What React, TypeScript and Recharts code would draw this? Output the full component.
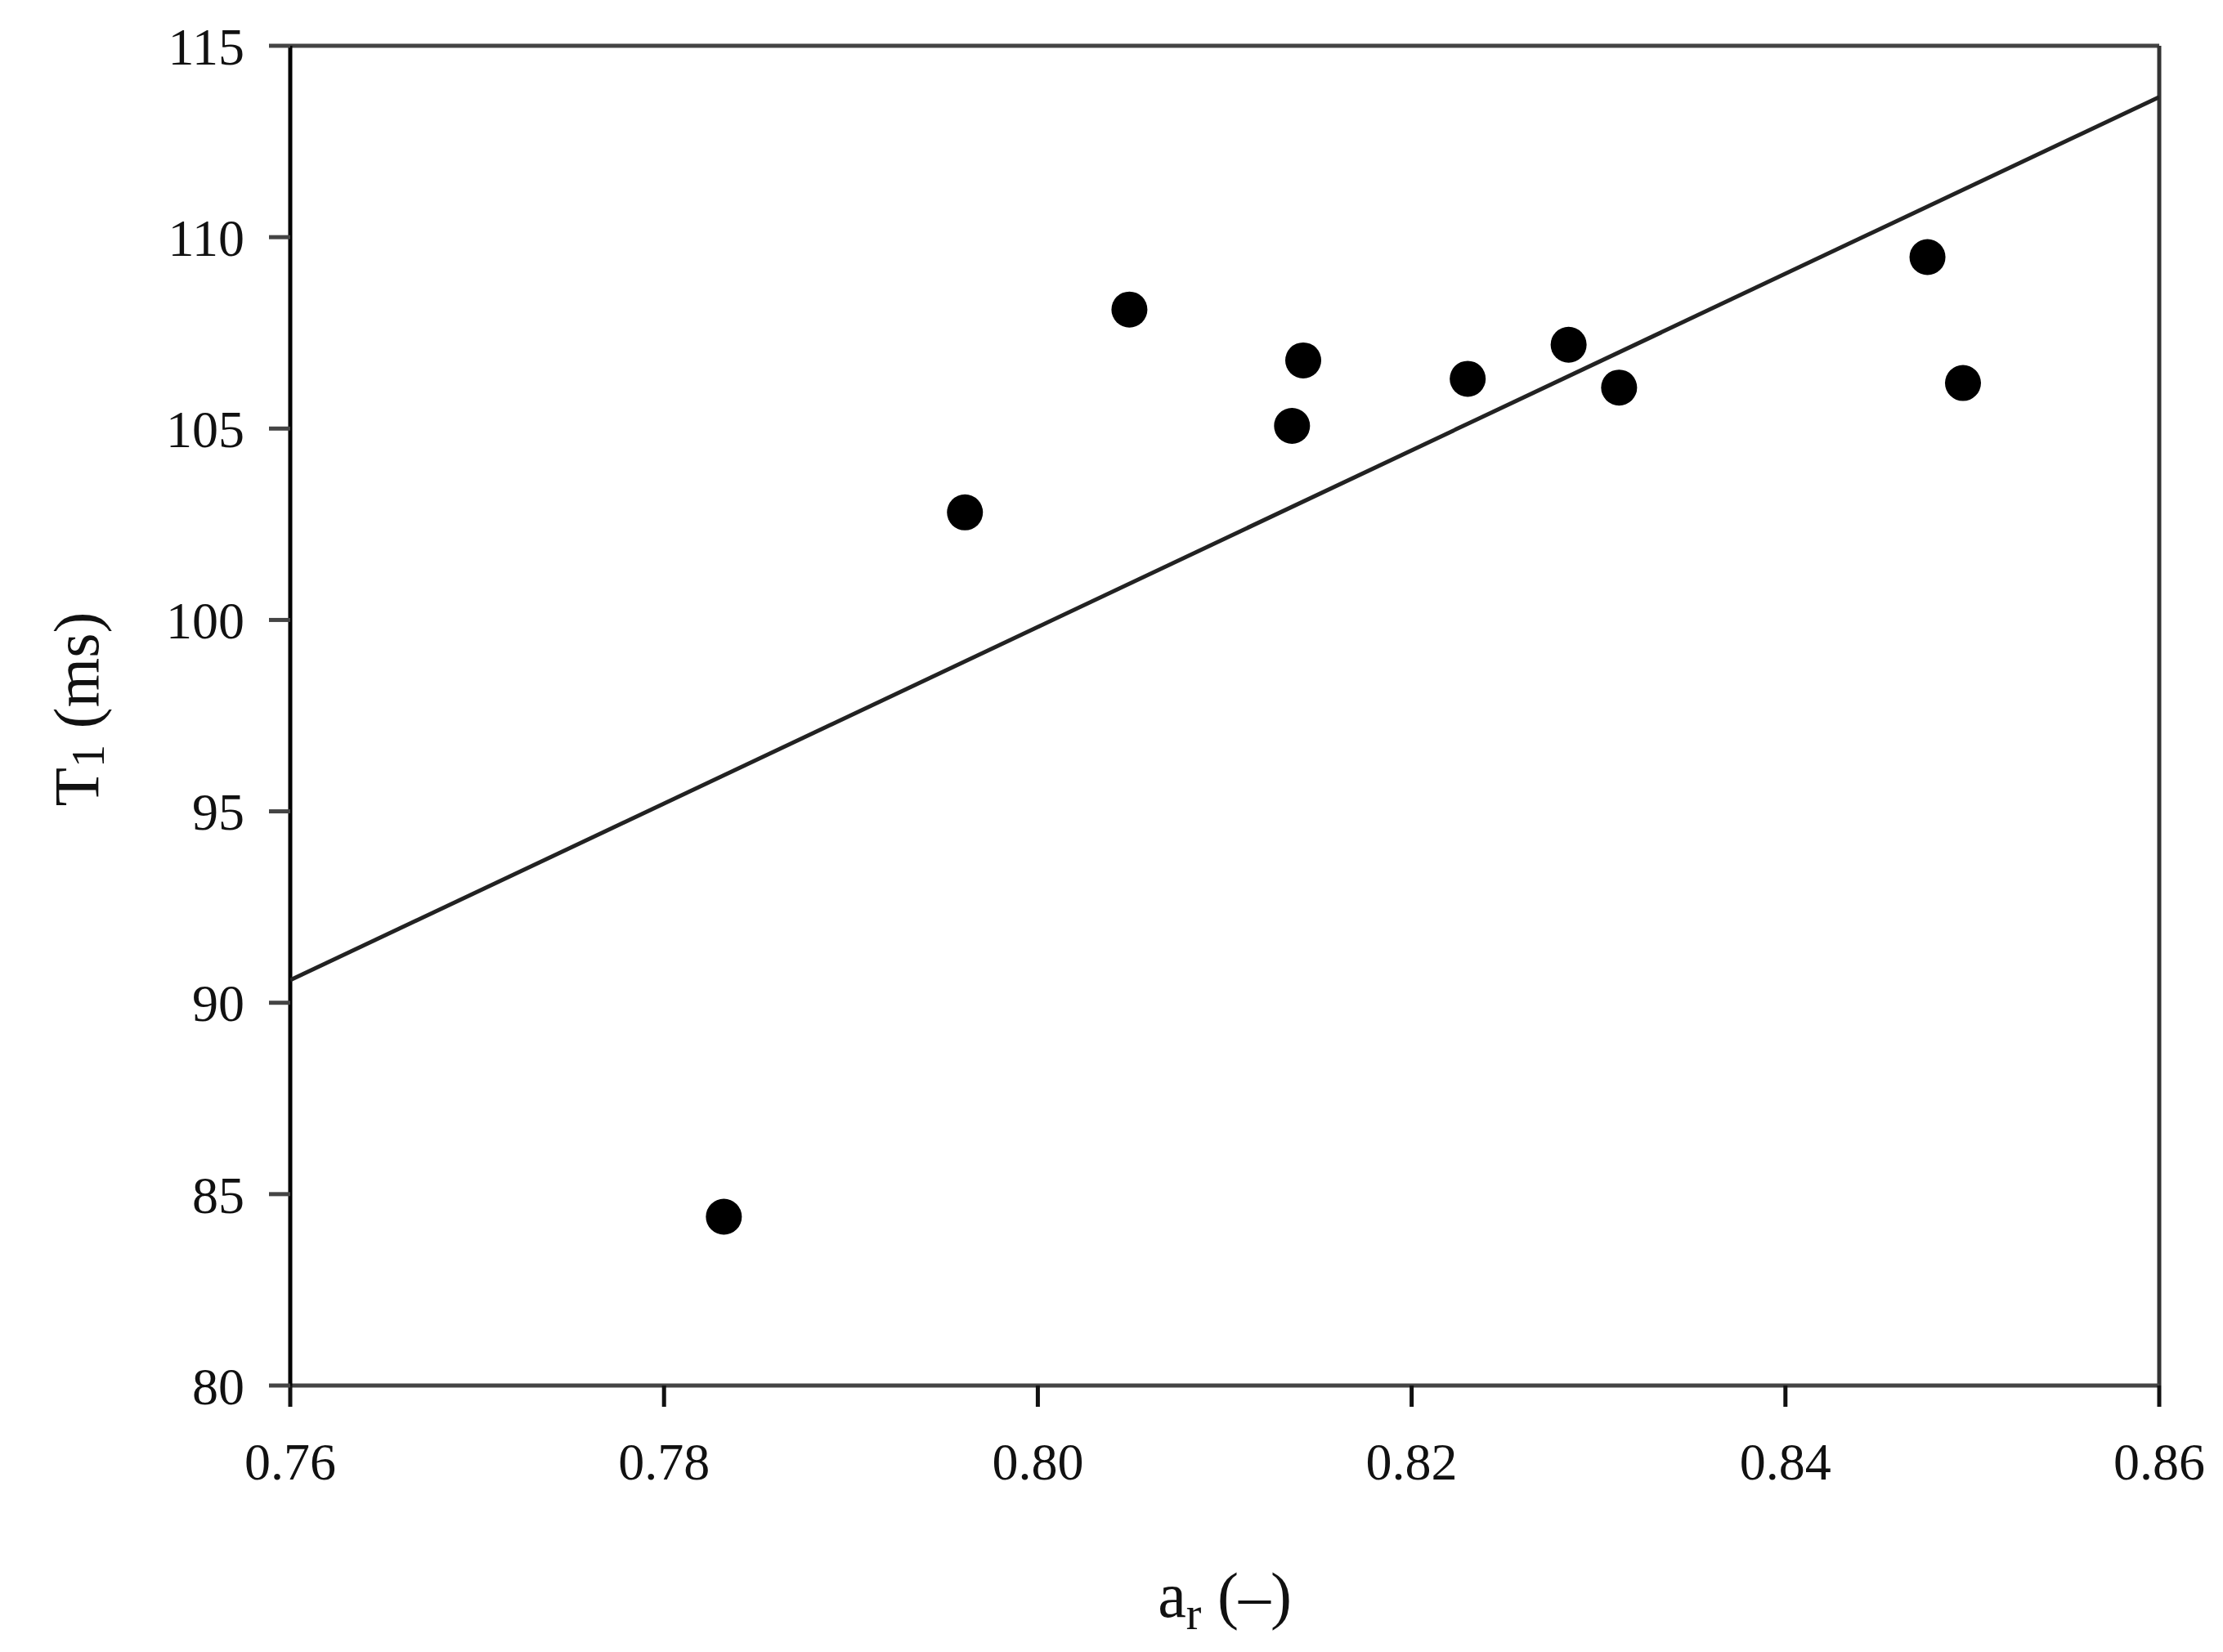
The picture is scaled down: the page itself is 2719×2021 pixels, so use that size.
import { ComposedChart, ReferenceLine, Scatter, XAxis, YAxis } from "recharts";

const arValues = [0.7832, 0.7961, 0.8049, 0.8136, 0.8142, 0.823, 0.8284, 0.8311, 0.8476, 0.8495];
const t1Values = [84.41, 102.81, 108.11, 105.07, 106.78, 106.3, 107.19, 106.07, 109.48, 106.19];
const fitX = [0.76, 0.86];
const fitY = [90.59, 113.66];
const xTicks = [0.76, 0.78, 0.8, 0.82, 0.84, 0.86];
const yTicks = [80, 85, 90, 95, 100, 105, 110, 115];

const points = arValues.map((x, i) => ({ x, y: t1Values[i] }));
const fitLine = fitX.map((x, i) => ({ x, y: fitY[i] }));

const FONT = "'Liberation Serif', 'DejaVu Serif', serif";
const W = 2719;
const H = 2021;

function Dot(props: any) {
  return <circle cx={props.cx} cy={props.cy} r={22} fill="#000" />;
}

function YLabel(props: any) {
  const vb = props.viewBox;
  const cx = 93;
  const cy = vb.y + vb.height / 2 - 8;
  return (
    <text x={cx} y={cy} transform={`rotate(-90 ${cx} ${cy})`} textAnchor="middle" dominantBaseline="central" fontFamily={FONT} fontSize={78} fill="#111">
      T<tspan fontSize={56} dy={15}>1</tspan>
      <tspan dy={-15}> (ms)</tspan>
    </text>
  );
}

function XLabel(props: any) {
  const vb = props.viewBox;
  const cx = vb.x + vb.width / 2;
  return (
    <text x={cx} y={1978} textAnchor="middle" fontFamily={FONT} fontSize={78} fill="#111">
      a<tspan fontSize={56} dy={15}>r</tspan>
      <tspan dy={-15}> (–)</tspan>
    </text>
  );
}

export default function App() {
  return (
    <div style={{ position: "absolute", left: 0, top: 0, width: W, height: H, background: "#fff" }}>
      <ComposedChart width={W} height={H} margin={{ top: 56, right: 78, left: 0, bottom: 0 }}>
        <XAxis
          type="number"
          dataKey="x"
          domain={[0.76, 0.86]}
          ticks={xTicks}
          allowDataOverflow
          height={326}
          tickFormatter={(v: number) => v.toFixed(2)}
          tick={{ fontFamily: FONT, fontSize: 64, fill: "#111" }}
          tickSize={26}
          tickMargin={44}
          axisLine={{ stroke: "#444", strokeWidth: 5 }}
          tickLine={{ stroke: "#111", strokeWidth: 5 }}
          label={<XLabel />}
        />
        <YAxis
          type="number"
          dataKey="y"
          domain={[80, 115]}
          ticks={yTicks}
          allowDataOverflow
          width={355}
          tick={{ fontFamily: FONT, fontSize: 64, fill: "#111" }}
          tickSize={26}
          tickMargin={30}
          axisLine={{ stroke: "#000", strokeWidth: 5 }}
          tickLine={{ stroke: "#444", strokeWidth: 5 }}
          label={<YLabel />}
        />
        <ReferenceLine y={115} stroke="#444" strokeWidth={5} />
        <ReferenceLine x={0.86} stroke="#333" strokeWidth={5} />
        <Scatter data={fitLine} line={{ stroke: "#222", strokeWidth: 5 }} shape={() => <g />} isAnimationActive={false} />
        <Scatter data={points} shape={<Dot />} isAnimationActive={false} />
      </ComposedChart>
    </div>
  );
}
